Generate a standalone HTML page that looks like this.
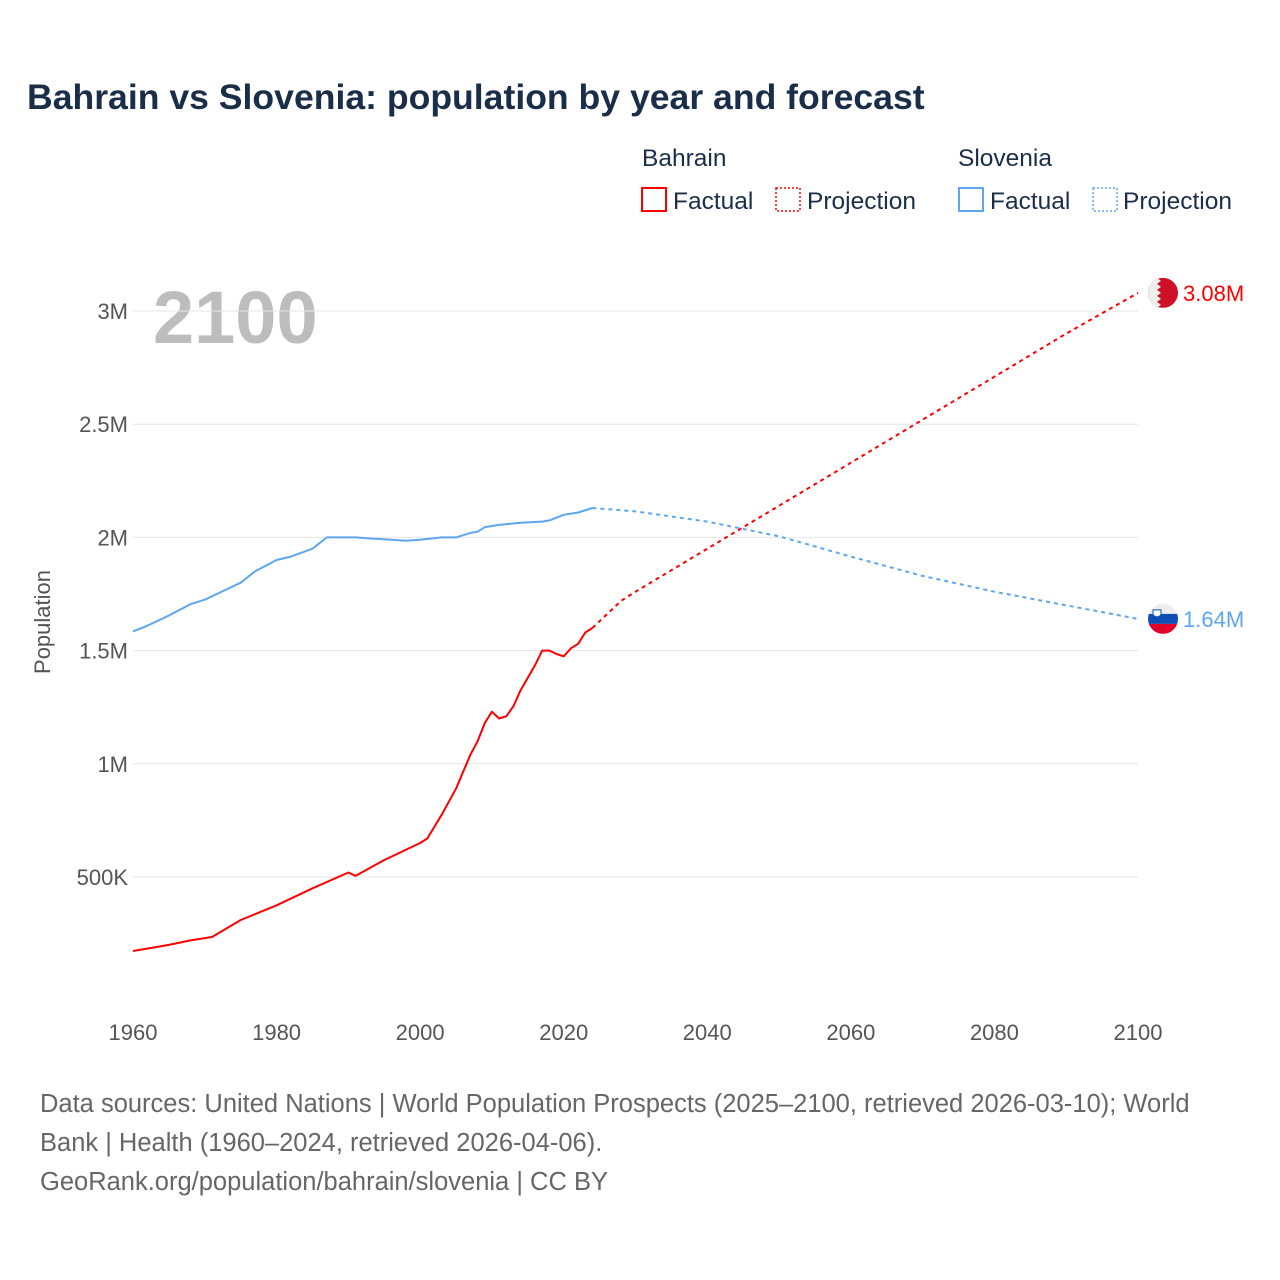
<!DOCTYPE html>
<html><head><meta charset="utf-8"><style>
body{margin:0;background:#fff;font-family:"Liberation Sans",sans-serif}
svg{display:block}
</style></head><body>
<svg id="chart" width="1280" height="1280" xmlns="http://www.w3.org/2000/svg" font-family="Liberation Sans, sans-serif">
<text x="27" y="109" font-size="35.6" font-weight="bold" fill="#1a2e4a">Bahrain vs Slovenia: population by year and forecast</text>
<g font-size="24.5" fill="#1a2e4a">
 <text x="642" y="166">Bahrain</text>
 <text x="958" y="166">Slovenia</text>
 <g><rect x="642" y="188" width="24" height="23" fill="none" stroke="#ff0000" stroke-width="2"/><text x="673" y="209">Factual</text></g>
 <g><rect x="776" y="188" width="24" height="23" fill="none" stroke="#ff0000" stroke-width="1.5" stroke-dasharray="2,2"/><text x="807" y="209">Projection</text></g>
 <g><rect x="959" y="188" width="24" height="23" fill="none" stroke="#5ea6ee" stroke-width="2"/><text x="990" y="209">Factual</text></g>
 <g><rect x="1093" y="188" width="24" height="23" fill="none" stroke="#5ea6ee" stroke-width="1.5" stroke-dasharray="2,2"/><text x="1123" y="209">Projection</text></g>
</g>
<text x="153" y="343" font-size="74" font-weight="bold" fill="#bdbdbd">2100</text>
<text transform="translate(50,622) rotate(-90)" text-anchor="middle" font-size="22" fill="#555">Population</text>
<g id="grid"></g><g id="yticks"></g><g id="xticks"></g><g id="series"></g><g id="ends"></g>
<g font-size="25.5" fill="#666">
 <text x="40" y="1112">Data sources: United Nations | World Population Prospects (2025–2100, retrieved 2026-03-10); World</text>
 <text x="40" y="1151">Bank | Health (1960–2024, retrieved 2026-04-06).</text>
 <text x="40" y="1190">GeoRank.org/population/bahrain/slovenia | CC BY</text>
</g>
</svg>
<script>
const bhYears=[1960,1965,1968,1971,1975,1980,1985,1990,1991,1995,2000,2001,2003,2005,2007,2008,2009,2010,2011,2012,2013,2014,2015,2016,2017,2018,2019,2020,2021,2022,2023,2024];
const bhVals=[0.173,0.20,0.22,0.235,0.31,0.375,0.45,0.52,0.505,0.575,0.65,0.67,0.775,0.89,1.04,1.10,1.18,1.23,1.20,1.21,1.255,1.325,1.38,1.435,1.50,1.50,1.485,1.475,1.51,1.53,1.58,1.60];
const bhProjYears=[2024,2025,2028,2030,2040,2050,2060,2070,2080,2090,2100];
const bhProjVals=[1.60,1.63,1.72,1.76,1.95,2.14,2.33,2.52,2.71,2.90,3.08];
const slYears=[1960,1962,1965,1968,1970,1973,1975,1977,1980,1982,1985,1987,1990,1991,1993,1996,1998,2000,2003,2005,2007,2008,2009,2011,2014,2017,2018,2020,2022,2024];
const slVals=[1.585,1.61,1.655,1.705,1.725,1.77,1.80,1.85,1.90,1.915,1.95,2.00,2.00,2.00,1.995,1.99,1.985,1.99,2.00,2.00,2.02,2.025,2.045,2.055,2.065,2.07,2.075,2.10,2.11,2.13];
const slProjYears=[2024,2030,2040,2050,2060,2070,2080,2090,2100];
const slProjVals=[2.13,2.115,2.07,2.005,1.915,1.83,1.76,1.70,1.64];
const yTickVals=[0.5,1,1.5,2,2.5,3];
const yTickLabels=["500K","1M","1.5M","2M","2.5M","3M"];
const xTickVals=[1960,1980,2000,2020,2040,2060,2080,2100];
const endLabels=["3.08M","1.64M"];

const NS="http://www.w3.org/2000/svg";
const X=yr=>133+(yr-1960)*(1005/140);
const Y=v=>990.2-v*226.4;
function mk(tag,attrs,parent){const e=document.createElementNS(NS,tag);for(const k in attrs)e.setAttribute(k,attrs[k]);document.getElementById(parent).appendChild(e);return e;}
yTickVals.forEach((v,i)=>{
 const g=mk('line',{x1:133,x2:1138,y1:Y(v),y2:Y(v),stroke:'#e6e6e6','stroke-width':1},'grid');
 
 
 const t=mk('text',{x:128,y:Y(v)+8,'text-anchor':'end','font-size':22,fill:'#555'},'yticks');
 t.textContent=yTickLabels[i];
 
 
});
xTickVals.forEach(v=>{
 const t=mk('text',{x:X(v),y:1040,'text-anchor':'middle','font-size':22,fill:'#555'},'xticks');
 t.textContent=v;
 
 
});
function line(ys,vs,color,dash,name){
 const d=ys.map((y,i)=>(i?'L':'M')+X(y).toFixed(1)+' '+Y(vs[i]).toFixed(1)).join(' ');
 const p=mk('path',{d:d,fill:'none',stroke:color,'stroke-width':2,'stroke-linejoin':'round'},'series');
 if(dash)p.setAttribute('stroke-dasharray',dash);
 
 
}
line(slYears,slVals,'#5ea6ee',null,'slovenia-factual-line');
line(slProjYears,slProjVals,'#5ea6ee','4,4','slovenia-projection-line');
line(bhYears,bhVals,'#ff0000',null,'bahrain-factual-line');
line(bhProjYears,bhProjVals,'#ff0000','4,4','bahrain-projection-line');
const bEnd=bhProjVals[bhProjVals.length-1], sEnd=slProjVals[slProjVals.length-1];
const ends=document.getElementById('ends');
ends.innerHTML=`
<g>
 <clipPath id="cb"><circle cx="1163" cy="${Y(bEnd)}" r="15"/></clipPath>
 <g clip-path="url(#cb)"><rect x="1148" y="${Y(bEnd)-15}" width="30" height="30" fill="#ce1126"/>
 <path d="M1148 ${Y(bEnd)-15} h9 l4 3 l-4 3 l4 3 l-4 3 l4 3 l-4 3 l4 3 l-4 3 l4 3 l-4 3 h-9z" fill="#eee"/></g>
</g>
<text x="1183" y="${Y(bEnd)+8}" font-size="22" fill="#ff0000">${endLabels[0]}</text>
<g>
 <clipPath id="cs"><circle cx="1163" cy="${Y(sEnd)}" r="15"/></clipPath>
 <g clip-path="url(#cs)"><rect x="1148" y="${Y(sEnd)-15}" width="30" height="10" fill="#eee"/>
 <rect x="1148" y="${Y(sEnd)-5}" width="30" height="10" fill="#0f4fb5"/>
 <rect x="1148" y="${Y(sEnd)+5}" width="30" height="10" fill="#e0002a"/>
 <path d="M1153 ${Y(sEnd)-9} h8 v5 q-4 4 -8 0z" fill="#fff" stroke="#0f4fb5" stroke-width="1"/></g>
</g>
<text x="1183" y="${Y(sEnd)+8}" font-size="22" fill="#5ea6ee">${endLabels[1]}</text>`;
</script>
</body></html>
